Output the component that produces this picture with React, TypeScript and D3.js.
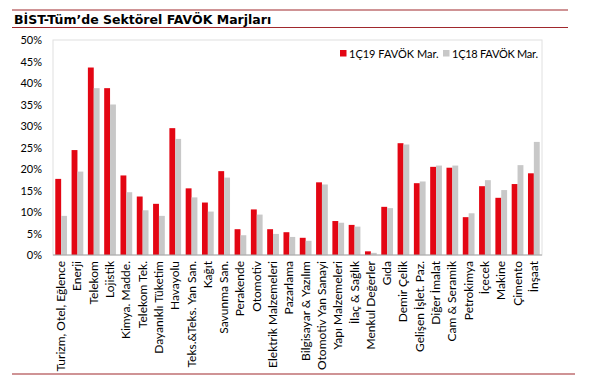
import React from "react";
import * as d3 from "d3";

const categories = [
  "Turizm, Otel, Eğlence", "Enerji", "Telekom", "Lojistik", "Kimya. Madde.", "Telekom Tek.",
  "Dayanıklı Tüketim", "Havayolu", "Teks.&Teks. Yan San.", "Kağıt", "Savunma San.", "Perakende",
  "Otomotiv", "Elektrik Malzemeleri", "Pazarlama", "Bilgisayar & Yazılım", "Otomotiv Yan Sanayi",
  "Yapı Malzemeleri", "İlaç & Sağlık", "Menkul Değerler", "Gıda", "Demir Çelik", "Gelişen İşlet. Paz.",
  "Diğer İmalat", "Cam & Seramik", "Petrokimya", "İçecek", "Makine", "Çimento", "İnşaat",
];
const q1_19 = [
  17.7, 24.4, 43.6, 38.8, 18.5, 13.6, 11.9, 29.5, 15.5, 12.2, 19.5, 6.0, 10.6, 6.0, 5.3,
  4.0, 16.9, 7.9, 7.0, 0.85, 11.2, 26.0, 16.7, 20.5, 20.3, 8.8, 16.0, 13.3, 16.5, 19.0,
];
const q1_18 = [
  9.1, 19.4, 38.8, 35.0, 14.6, 10.4, 9.1, 27.0, 13.4, 10.1, 18.0, 4.6, 9.4, 4.9, 4.2,
  3.3, 16.4, 7.5, 6.6, 0.5, 10.9, 25.7, 17.1, 20.8, 20.8, 9.7, 17.4, 15.1, 20.9, 26.3,
];
const seriesNames = ["1Ç19 FAVÖK Mar.", "1Ç18 FAVÖK Mar."];
const yTicks = [0, 5, 10, 15, 20, 25, 30, 35, 40, 45, 50];
const colors = ["#e30613", "#c8c8c8"];

export default function App() {
  const W = 600, H = 377;
  const left = 53, right = 542, top = 40, bottom = 255;
  const x0 = d3.scaleBand<string>().domain(categories).range([left, right]).paddingInner(0.28).paddingOuter(0.14);
  const x1 = d3.scaleBand<number>().domain([0, 1]).range([0, x0.bandwidth()]);
  const y = d3.scaleLinear().domain([0, 50]).range([bottom, top]);
  const font = "Lato, 'Open Sans', sans-serif";
  const lineColor = "#a0282d";
  return (
    <svg width={W} height={H} style={{ position: "absolute", left: 0, top: 0, background: "#fff" }}>
      <line x1={12} x2={568} y1={10} y2={10} stroke={lineColor} strokeWidth={1.2} />
      <line x1={12} x2={568} y1={27.5} y2={27.5} stroke={lineColor} strokeWidth={1.2} />
      <text x={14} y={23.5} fontFamily="'DejaVu Sans', Verdana, sans-serif" fontWeight="bold" fontSize={12.5} fill="#000">
        BİST-Tüm’de Sektörel FAVÖK Marjları
      </text>
      <rect x={left} y={top} width={right - left} height={bottom - top} fill="none" stroke="#e0e0e0" strokeWidth={1} />
      {yTicks.map((t) => (
        <text key={t} x={42} y={y(t) + 4} textAnchor="end" fontFamily={font} fontSize={11} fill="#000">
          {t}%
        </text>
      ))}
      {categories.map((c, i) => (
        <g key={c}>
          <rect x={x0(c)! + x1(0)!} y={y(q1_19[i])} width={x1.bandwidth()} height={bottom - y(q1_19[i])} fill={colors[0]} />
          <rect x={x0(c)! + x1(1)!} y={y(q1_18[i])} width={x1.bandwidth()} height={bottom - y(q1_18[i])} fill={colors[1]} />
        </g>
      ))}
      <line x1={left} x2={right} y1={bottom} y2={bottom} stroke="#a6a6a6" strokeWidth={1} />
      {categories.map((c) => {
        const cx = x0(c)! + x0.bandwidth() / 2 + 4;
        return (
          <text key={c} transform={`translate(${cx},${bottom + 6}) rotate(-90)`} textAnchor="end" fontFamily={font} fontSize={12} fill="#000">
            {c}
          </text>
        );
      })}
      <g fontFamily={font} fontSize={11} fill="#000">
        <rect x={340} y={50} width={6.5} height={6.5} fill={colors[0]} />
        <text x={349} y={57.5}>{seriesNames[0]}</text>
        <rect x={443} y={50} width={6.5} height={6.5} fill={colors[1]} />
        <text x={452} y={57.5} textLength={86}>{seriesNames[1]}</text>
      </g>
      <line x1={12} x2={575} y1={374} y2={374} stroke={lineColor} strokeWidth={1.2} />
    </svg>
  );
}
